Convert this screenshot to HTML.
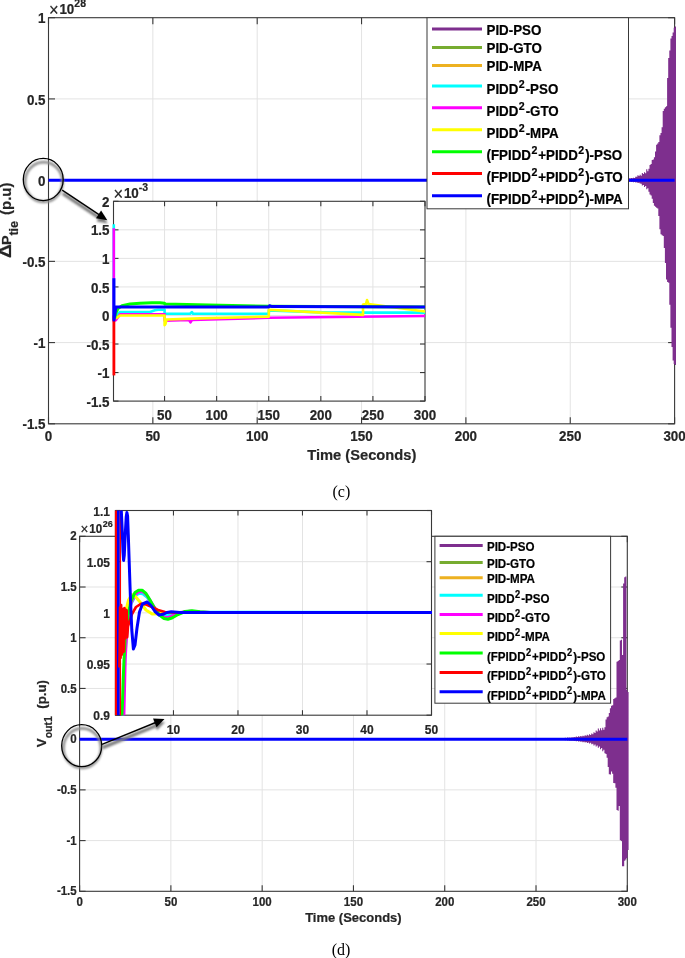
<!DOCTYPE html>
<html><head><meta charset="utf-8"><style>
html,body{margin:0;padding:0;background:#fff;}
svg{display:block;will-change:transform;}
text{font-family:"Liberation Sans", sans-serif;font-weight:bold;fill:#262626;stroke:#262626;stroke-width:0.2px;}
.serif{font-family:"Liberation Serif",serif;font-weight:normal;fill:#000;stroke:none;}
.lg{fill:#000;stroke:#000;}
.sup{font-size:9px;}
</style></head><body>
<svg width="685" height="958" viewBox="0 0 685 958">
<defs>
<filter id="sh" x="-30%" y="-30%" width="160%" height="160%"><feGaussianBlur stdDeviation="1.2"/></filter>
<marker id="ah" viewBox="0 0 10 10" refX="10" refY="5" markerWidth="10" markerHeight="10" orient="auto" markerUnits="userSpaceOnUse"><path d="M0,0 L10,5 L0,10 z" fill="#000"/></marker>
</defs>
<rect width="685" height="958" fill="#fff"/>

<rect x="48.5" y="17.7" width="626.1" height="406.1" fill="#fff"/>
<line x1="152.85" y1="17.7" x2="152.85" y2="423.8" stroke="#e3e3e3" stroke-width="1"/>
<line x1="257.20" y1="17.7" x2="257.20" y2="423.8" stroke="#e3e3e3" stroke-width="1"/>
<line x1="361.55" y1="17.7" x2="361.55" y2="423.8" stroke="#e3e3e3" stroke-width="1"/>
<line x1="465.90" y1="17.7" x2="465.90" y2="423.8" stroke="#e3e3e3" stroke-width="1"/>
<line x1="570.25" y1="17.7" x2="570.25" y2="423.8" stroke="#e3e3e3" stroke-width="1"/>
<line x1="48.5" y1="342.58" x2="674.6" y2="342.58" stroke="#e3e3e3" stroke-width="1"/>
<line x1="48.5" y1="261.36" x2="674.6" y2="261.36" stroke="#e3e3e3" stroke-width="1"/>
<line x1="48.5" y1="180.14" x2="674.6" y2="180.14" stroke="#e3e3e3" stroke-width="1"/>
<line x1="48.5" y1="98.92" x2="674.6" y2="98.92" stroke="#e3e3e3" stroke-width="1"/>
<line x1="48.50" y1="423.8" x2="48.50" y2="417.3" stroke="#383838" stroke-width="1.1"/>
<line x1="48.50" y1="17.7" x2="48.50" y2="24.2" stroke="#383838" stroke-width="1.1"/>
<line x1="152.85" y1="423.8" x2="152.85" y2="417.3" stroke="#383838" stroke-width="1.1"/>
<line x1="152.85" y1="17.7" x2="152.85" y2="24.2" stroke="#383838" stroke-width="1.1"/>
<line x1="257.20" y1="423.8" x2="257.20" y2="417.3" stroke="#383838" stroke-width="1.1"/>
<line x1="257.20" y1="17.7" x2="257.20" y2="24.2" stroke="#383838" stroke-width="1.1"/>
<line x1="361.55" y1="423.8" x2="361.55" y2="417.3" stroke="#383838" stroke-width="1.1"/>
<line x1="361.55" y1="17.7" x2="361.55" y2="24.2" stroke="#383838" stroke-width="1.1"/>
<line x1="465.90" y1="423.8" x2="465.90" y2="417.3" stroke="#383838" stroke-width="1.1"/>
<line x1="465.90" y1="17.7" x2="465.90" y2="24.2" stroke="#383838" stroke-width="1.1"/>
<line x1="570.25" y1="423.8" x2="570.25" y2="417.3" stroke="#383838" stroke-width="1.1"/>
<line x1="570.25" y1="17.7" x2="570.25" y2="24.2" stroke="#383838" stroke-width="1.1"/>
<line x1="674.60" y1="423.8" x2="674.60" y2="417.3" stroke="#383838" stroke-width="1.1"/>
<line x1="674.60" y1="17.7" x2="674.60" y2="24.2" stroke="#383838" stroke-width="1.1"/>
<line x1="48.5" y1="423.80" x2="55.0" y2="423.80" stroke="#383838" stroke-width="1.1"/>
<line x1="674.6" y1="423.80" x2="668.1" y2="423.80" stroke="#383838" stroke-width="1.1"/>
<line x1="48.5" y1="342.58" x2="55.0" y2="342.58" stroke="#383838" stroke-width="1.1"/>
<line x1="674.6" y1="342.58" x2="668.1" y2="342.58" stroke="#383838" stroke-width="1.1"/>
<line x1="48.5" y1="261.36" x2="55.0" y2="261.36" stroke="#383838" stroke-width="1.1"/>
<line x1="674.6" y1="261.36" x2="668.1" y2="261.36" stroke="#383838" stroke-width="1.1"/>
<line x1="48.5" y1="180.14" x2="55.0" y2="180.14" stroke="#383838" stroke-width="1.1"/>
<line x1="674.6" y1="180.14" x2="668.1" y2="180.14" stroke="#383838" stroke-width="1.1"/>
<line x1="48.5" y1="98.92" x2="55.0" y2="98.92" stroke="#383838" stroke-width="1.1"/>
<line x1="674.6" y1="98.92" x2="668.1" y2="98.92" stroke="#383838" stroke-width="1.1"/>
<line x1="48.5" y1="17.70" x2="55.0" y2="17.70" stroke="#383838" stroke-width="1.1"/>
<line x1="674.6" y1="17.70" x2="668.1" y2="17.70" stroke="#383838" stroke-width="1.1"/>
<rect x="48.5" y="17.7" width="626.1" height="406.1" fill="none" stroke="#383838" stroke-width="1.1"/>
<path d="M622,180.2 L623.1,180.2 L623.1,180.03 L624.2,180.03 L624.2,179.81 L625.3,179.81 L625.3,179.72 L626.4,179.72 L626.4,179.32 L627.5,179.32 L627.5,179.09 L628.6,179.09 L628.6,178.34 L629.7,178.34 L629.7,178.54 L630.8,178.54 L630.8,177.98 L631.9,177.98 L631.9,178.27 L633.0,178.27 L633.0,177.65 L634.1,177.65 L634.1,177.97 L635.2,177.97 L635.2,176.69 L636.3,176.69 L636.3,176.78 L637.4,176.78 L637.4,175.2 L638.5,175.2 L638.5,176.02 L639.6,176.02 L639.6,174.79 L640.7,174.79 L640.7,175.69 L641.8,175.69 L641.8,172.91 L642.9,172.91 L642.9,174.1 L644.0,174.1 L644.0,172.29 L645.1,172.29 L645.1,173.2 L646.2,173.2 L646.2,169.22 L647.3,169.22 L647.3,171.17 L648.4,171.17 L648.4,168.65 L649.5,168.65 L649.5,165.0 L650.6,165.0 L650.6,163.9 L651.7,163.9 L651.7,159.91 L652.8,159.91 L652.8,159.43 L653.9,159.43 L653.9,157.25 L655.0,157.25 L655.0,151.47 L656.1,151.47 L656.1,144.87 L657.2,144.87 L657.2,143.38 L658.3,143.38 L658.3,141.9 L659.4,141.9 L659.4,135.2 L660.5,135.2 L660.5,133.0 L661.6,133.0 L661.6,127.2 L662.7,127.2 L662.7,111.0 L663.8,111.0 L663.8,108.67 L664.9,108.67 L664.9,107.22 L666.0,107.22 L666.0,106.26 L667.1,106.26 L667.1,78.08 L668.2,78.08 L668.2,58.0 L669.3,58.0 L669.3,50.5 L670.4,50.5 L670.4,38.57 L671.5,38.57 L671.5,36.0 L672.6,36.0 L672.6,32.5 L673.7,32.5 L673.7,27.7 L674.8,27.7 L674.8,26.5 L675.9,26.5 L675.9,26.5 L676,26.5 L676,26.5 L676,365 L676,365.0 L675.9,365.0 L675.9,365.0 L674.8,365.0 L674.8,363.94 L673.7,363.94 L673.7,360.5 L672.6,360.5 L672.6,347.0 L671.5,347.0 L671.5,327.63 L670.4,327.63 L670.4,304.71 L669.3,304.71 L669.3,282.78 L668.2,282.78 L668.2,281.95 L667.1,281.95 L667.1,279.5 L666.0,279.5 L666.0,262.93 L664.9,262.93 L664.9,248.0 L663.8,248.0 L663.8,235.94 L662.7,235.94 L662.7,235.33 L661.6,235.33 L661.6,234.17 L660.5,234.17 L660.5,229.22 L659.4,229.22 L659.4,215.91 L658.3,215.91 L658.3,208.5 L657.2,208.5 L657.2,207.64 L656.1,207.64 L656.1,206.78 L655.0,206.78 L655.0,205.75 L653.9,205.75 L653.9,203.0 L652.8,203.0 L652.8,198.86 L651.7,198.86 L651.7,195.39 L650.6,195.39 L650.6,194.43 L649.5,194.43 L649.5,191.75 L648.4,191.75 L648.4,188.17 L647.3,188.17 L647.3,189.18 L646.2,189.18 L646.2,186.1 L645.1,186.1 L645.1,186.9 L644.0,186.9 L644.0,184.98 L642.9,184.98 L642.9,185.51 L641.8,185.51 L641.8,183.71 L640.7,183.71 L640.7,183.53 L639.6,183.53 L639.6,182.65 L638.5,182.65 L638.5,183.04 L637.4,183.04 L637.4,182.25 L636.3,182.25 L636.3,182.54 L635.2,182.54 L635.2,181.92 L634.1,181.92 L634.1,182.23 L633.0,182.23 L633.0,181.68 L631.9,181.68 L631.9,181.93 L630.8,181.93 L630.8,181.44 L629.7,181.44 L629.7,181.63 L628.6,181.63 L628.6,181.18 L627.5,181.18 L627.5,181.26 L626.4,181.26 L626.4,180.87 L625.3,180.87 L625.3,180.88 L624.2,180.88 L624.2,180.57 L623.1,180.57 L623.1,180.5 L622,180.5 Z" fill="#7E2F8E"/>
<line x1="48.5" y1="180.14" x2="674.6" y2="180.14" stroke="#0000FF" stroke-width="3"/>
<text transform="translate(48.50,441.2) scale(1,1.1)" font-size="13.4" text-anchor="middle">0</text>
<text transform="translate(152.85,441.2) scale(1,1.1)" font-size="13.4" text-anchor="middle">50</text>
<text transform="translate(257.20,441.2) scale(1,1.1)" font-size="13.4" text-anchor="middle">100</text>
<text transform="translate(361.55,441.2) scale(1,1.1)" font-size="13.4" text-anchor="middle">150</text>
<text transform="translate(465.90,441.2) scale(1,1.1)" font-size="13.4" text-anchor="middle">200</text>
<text transform="translate(570.25,441.2) scale(1,1.1)" font-size="13.4" text-anchor="middle">250</text>
<text transform="translate(674.60,441.2) scale(1,1.1)" font-size="13.4" text-anchor="middle">300</text>
<text transform="translate(45.5,429.42) scale(1,1.1)" font-size="13.4" text-anchor="end">-1.5</text>
<text transform="translate(45.5,348.20) scale(1,1.1)" font-size="13.4" text-anchor="end">-1</text>
<text transform="translate(45.5,266.98) scale(1,1.1)" font-size="13.4" text-anchor="end">-0.5</text>
<text transform="translate(45.5,185.76) scale(1,1.1)" font-size="13.4" text-anchor="end">0</text>
<text transform="translate(45.5,104.54) scale(1,1.1)" font-size="13.4" text-anchor="end">0.5</text>
<text transform="translate(45.5,23.32) scale(1,1.1)" font-size="13.4" text-anchor="end">1</text>
<text transform="translate(49,14) scale(1,1.1)" font-size="13.4"><tspan font-weight="normal" font-size="16.5" dy="1.8">×</tspan><tspan dy="-1.8" dx="0.8">10</tspan><tspan font-size="10.5" dy="-6.2">28</tspan></text>
<g transform="translate(11,258.6) rotate(-90)">
<text transform="translate(0.6,0) scale(1.28,1.08)" font-size="15">Δ</text>
<text transform="translate(13.6,0) scale(1,0.9)" font-size="14.6">P</text>
<text transform="translate(23.0,6.6) scale(1,0.95)" font-size="12.6">tie</text>
<text transform="translate(43.6,0) scale(1,1)" font-size="15">(p.u)</text>
</g>
<text transform="translate(361.75,459.6) scale(1,1.03)" font-size="14.7" text-anchor="middle">Time (Seconds)</text>
<text class="serif" x="341.4" y="497" font-size="16" text-anchor="middle">(c)</text>
<rect x="427.0" y="17.7" width="201.5" height="191.10000000000002" fill="#fff" stroke="#383838" stroke-width="1"/>
<line x1="432" y1="29.1" x2="482" y2="29.1" stroke="#7E2F8E" stroke-width="3"/>
<text transform="translate(486.5,34.70) scale(1,1.1)" class="lg" font-size="13.35">PID-PSO</text>
<line x1="432" y1="47.4" x2="482" y2="47.4" stroke="#77AC30" stroke-width="3"/>
<text transform="translate(486.5,53.00) scale(1,1.1)" class="lg" font-size="13.35">PID-GTO</text>
<line x1="432" y1="65.5" x2="482" y2="65.5" stroke="#EDB120" stroke-width="3"/>
<text transform="translate(486.5,71.10) scale(1,1.1)" class="lg" font-size="13.35">PID-MPA</text>
<line x1="432" y1="85.9" x2="482" y2="85.9" stroke="#00FFFF" stroke-width="3"/>
<text transform="translate(486.5,93.90) scale(1,1.1)" class="lg" font-size="13.35">PIDD<tspan font-size="10.6" dx="0.5" dy="-5.6">2</tspan><tspan dx="0.9" dy="5.6">-PSO</tspan></text>
<line x1="432" y1="107.7" x2="482" y2="107.7" stroke="#FF00FF" stroke-width="3"/>
<text transform="translate(486.5,115.70) scale(1,1.1)" class="lg" font-size="13.35">PIDD<tspan font-size="10.6" dx="0.5" dy="-5.6">2</tspan><tspan dx="0.9" dy="5.6">-GTO</tspan></text>
<line x1="432" y1="129.8" x2="482" y2="129.8" stroke="#FFFF00" stroke-width="3"/>
<text transform="translate(486.5,137.80) scale(1,1.1)" class="lg" font-size="13.35">PIDD<tspan font-size="10.6" dx="0.5" dy="-5.6">2</tspan><tspan dx="0.9" dy="5.6">-MPA</tspan></text>
<line x1="432" y1="151.7" x2="482" y2="151.7" stroke="#00FF00" stroke-width="3"/>
<text transform="translate(486.5,160.10) scale(1,1.1)" class="lg" font-size="13.35">(FPIDD<tspan font-size="10.6" dx="0.5" dy="-5.6">2</tspan><tspan dx="0.9" dy="5.6">+PIDD</tspan><tspan font-size="10.6" dx="0.5" dy="-5.6">2</tspan><tspan dx="0.9" dy="5.6">)-PSO</tspan></text>
<line x1="432" y1="173.5" x2="482" y2="173.5" stroke="#FF0000" stroke-width="3"/>
<text transform="translate(486.5,181.90) scale(1,1.1)" class="lg" font-size="13.35">(FPIDD<tspan font-size="10.6" dx="0.5" dy="-5.6">2</tspan><tspan dx="0.9" dy="5.6">+PIDD</tspan><tspan font-size="10.6" dx="0.5" dy="-5.6">2</tspan><tspan dx="0.9" dy="5.6">)-GTO</tspan></text>
<line x1="432" y1="195.7" x2="482" y2="195.7" stroke="#0000FF" stroke-width="3"/>
<text transform="translate(486.5,204.10) scale(1,1.1)" class="lg" font-size="13.35">(FPIDD<tspan font-size="10.6" dx="0.5" dy="-5.6">2</tspan><tspan dx="0.9" dy="5.6">+PIDD</tspan><tspan font-size="10.6" dx="0.5" dy="-5.6">2</tspan><tspan dx="0.9" dy="5.6">)-MPA</tspan></text>
<rect x="113.5" y="201.3" width="311.5" height="199.8" fill="#fff"/>
<line x1="164.55" y1="201.3" x2="164.55" y2="401.1" stroke="#e3e3e3" stroke-width="1"/>
<line x1="216.64" y1="201.3" x2="216.64" y2="401.1" stroke="#e3e3e3" stroke-width="1"/>
<line x1="268.73" y1="201.3" x2="268.73" y2="401.1" stroke="#e3e3e3" stroke-width="1"/>
<line x1="320.82" y1="201.3" x2="320.82" y2="401.1" stroke="#e3e3e3" stroke-width="1"/>
<line x1="372.91" y1="201.3" x2="372.91" y2="401.1" stroke="#e3e3e3" stroke-width="1"/>
<line x1="113.5" y1="372.56" x2="425.0" y2="372.56" stroke="#e3e3e3" stroke-width="1"/>
<line x1="113.5" y1="344.01" x2="425.0" y2="344.01" stroke="#e3e3e3" stroke-width="1"/>
<line x1="113.5" y1="315.47" x2="425.0" y2="315.47" stroke="#e3e3e3" stroke-width="1"/>
<line x1="113.5" y1="286.93" x2="425.0" y2="286.93" stroke="#e3e3e3" stroke-width="1"/>
<line x1="113.5" y1="258.39" x2="425.0" y2="258.39" stroke="#e3e3e3" stroke-width="1"/>
<line x1="113.5" y1="229.84" x2="425.0" y2="229.84" stroke="#e3e3e3" stroke-width="1"/>
<line x1="164.55" y1="401.1" x2="164.55" y2="396.1" stroke="#383838" stroke-width="1.1"/>
<line x1="164.55" y1="201.3" x2="164.55" y2="206.3" stroke="#383838" stroke-width="1.1"/>
<line x1="216.64" y1="401.1" x2="216.64" y2="396.1" stroke="#383838" stroke-width="1.1"/>
<line x1="216.64" y1="201.3" x2="216.64" y2="206.3" stroke="#383838" stroke-width="1.1"/>
<line x1="268.73" y1="401.1" x2="268.73" y2="396.1" stroke="#383838" stroke-width="1.1"/>
<line x1="268.73" y1="201.3" x2="268.73" y2="206.3" stroke="#383838" stroke-width="1.1"/>
<line x1="320.82" y1="401.1" x2="320.82" y2="396.1" stroke="#383838" stroke-width="1.1"/>
<line x1="320.82" y1="201.3" x2="320.82" y2="206.3" stroke="#383838" stroke-width="1.1"/>
<line x1="372.91" y1="401.1" x2="372.91" y2="396.1" stroke="#383838" stroke-width="1.1"/>
<line x1="372.91" y1="201.3" x2="372.91" y2="206.3" stroke="#383838" stroke-width="1.1"/>
<line x1="425.00" y1="401.1" x2="425.00" y2="396.1" stroke="#383838" stroke-width="1.1"/>
<line x1="425.00" y1="201.3" x2="425.00" y2="206.3" stroke="#383838" stroke-width="1.1"/>
<line x1="113.5" y1="401.10" x2="118.5" y2="401.10" stroke="#383838" stroke-width="1.1"/>
<line x1="425.0" y1="401.10" x2="420.0" y2="401.10" stroke="#383838" stroke-width="1.1"/>
<line x1="113.5" y1="372.56" x2="118.5" y2="372.56" stroke="#383838" stroke-width="1.1"/>
<line x1="425.0" y1="372.56" x2="420.0" y2="372.56" stroke="#383838" stroke-width="1.1"/>
<line x1="113.5" y1="344.01" x2="118.5" y2="344.01" stroke="#383838" stroke-width="1.1"/>
<line x1="425.0" y1="344.01" x2="420.0" y2="344.01" stroke="#383838" stroke-width="1.1"/>
<line x1="113.5" y1="315.47" x2="118.5" y2="315.47" stroke="#383838" stroke-width="1.1"/>
<line x1="425.0" y1="315.47" x2="420.0" y2="315.47" stroke="#383838" stroke-width="1.1"/>
<line x1="113.5" y1="286.93" x2="118.5" y2="286.93" stroke="#383838" stroke-width="1.1"/>
<line x1="425.0" y1="286.93" x2="420.0" y2="286.93" stroke="#383838" stroke-width="1.1"/>
<line x1="113.5" y1="258.39" x2="118.5" y2="258.39" stroke="#383838" stroke-width="1.1"/>
<line x1="425.0" y1="258.39" x2="420.0" y2="258.39" stroke="#383838" stroke-width="1.1"/>
<line x1="113.5" y1="229.84" x2="118.5" y2="229.84" stroke="#383838" stroke-width="1.1"/>
<line x1="425.0" y1="229.84" x2="420.0" y2="229.84" stroke="#383838" stroke-width="1.1"/>
<line x1="113.5" y1="201.30" x2="118.5" y2="201.30" stroke="#383838" stroke-width="1.1"/>
<line x1="425.0" y1="201.30" x2="420.0" y2="201.30" stroke="#383838" stroke-width="1.1"/>
<rect x="113.5" y="201.3" width="311.5" height="199.8" fill="none" stroke="#383838" stroke-width="1.1"/>
<clipPath id="c1"><rect x="112.0" y="200.3" width="314.5" height="201.8"/></clipPath>
<g clip-path="url(#c1)">
<polyline points="113.80,224.13 113.80,315.47 116.00,315.47 120.00,312.05 150.00,312.05 155.00,310.33 158.00,309.76 164.60,309.76 164.60,313.76 190.00,313.76 192.00,312.05 193.00,313.76 268.80,313.76 268.80,310.33 330.00,312.62 425.00,312.62" fill="none" stroke="#00FFFF" stroke-width="2.6" stroke-linejoin="round" stroke-linecap="butt" />
<polyline points="113.80,228.13 113.80,321.18 116.00,320.04 118.00,317.18 120.00,314.33 164.60,314.33 164.60,320.61 189.00,320.04 190.50,322.32 192.00,320.04 268.80,317.75 425.00,316.04" fill="none" stroke="#FF00FF" stroke-width="2.6" stroke-linejoin="round" stroke-linecap="butt" />
<polyline points="116.00,318.33 120.00,315.47 164.60,315.47 164.60,325.18 165.50,324.03 166.50,319.47 200.00,318.33 268.80,316.61 268.80,309.76 363.00,314.90 363.00,304.63 366.00,304.05 367.00,300.06 368.50,304.05 425.00,311.48" fill="none" stroke="#FFFF00" stroke-width="2.6" stroke-linejoin="round" stroke-linecap="butt" />
<polyline points="114.50,318.33 116.00,312.62 118.00,308.62 122.00,305.77 130.00,304.05 140.00,303.20 152.00,302.68 160.00,302.80 164.60,303.20 164.60,304.05 220.00,305.20 268.80,306.34 425.00,306.91" fill="none" stroke="#00FF00" stroke-width="3" stroke-linejoin="round" stroke-linecap="butt" />
<polyline points="113.90,315.47 113.90,375.41" fill="none" stroke="#FF0000" stroke-width="2.8" stroke-linejoin="round" stroke-linecap="butt" />
<polyline points="113.90,278.37 113.90,320.04 116.00,306.91 268.80,306.91 269.50,305.77 272.00,306.62 425.00,306.91" fill="none" stroke="#0000FF" stroke-width="3" stroke-linejoin="round" stroke-linecap="butt" />
</g>
<text transform="translate(164.55,419.5) scale(1,1.1)" font-size="13.4" text-anchor="middle">50</text>
<text transform="translate(216.64,419.5) scale(1,1.1)" font-size="13.4" text-anchor="middle">100</text>
<text transform="translate(268.73,419.5) scale(1,1.1)" font-size="13.4" text-anchor="middle">150</text>
<text transform="translate(320.82,419.5) scale(1,1.1)" font-size="13.4" text-anchor="middle">200</text>
<text transform="translate(372.91,419.5) scale(1,1.1)" font-size="13.4" text-anchor="middle">250</text>
<text transform="translate(425.00,419.5) scale(1,1.1)" font-size="13.4" text-anchor="middle">300</text>
<text transform="translate(109.5,406.72) scale(1,1.1)" font-size="13.4" text-anchor="end">-1.5</text>
<text transform="translate(109.5,378.18) scale(1,1.1)" font-size="13.4" text-anchor="end">-1</text>
<text transform="translate(109.5,349.64) scale(1,1.1)" font-size="13.4" text-anchor="end">-0.5</text>
<text transform="translate(109.5,321.10) scale(1,1.1)" font-size="13.4" text-anchor="end">0</text>
<text transform="translate(109.5,292.55) scale(1,1.1)" font-size="13.4" text-anchor="end">0.5</text>
<text transform="translate(109.5,264.01) scale(1,1.1)" font-size="13.4" text-anchor="end">1</text>
<text transform="translate(109.5,235.47) scale(1,1.1)" font-size="13.4" text-anchor="end">1.5</text>
<text transform="translate(109.5,206.92) scale(1,1.1)" font-size="13.4" text-anchor="end">2</text>
<text transform="translate(113.5,198) scale(1,1.1)" font-size="13.4"><tspan font-weight="normal" font-size="16.5" dy="1.8">×</tspan><tspan dy="-1.8" dx="0.8">10</tspan><tspan font-size="10.5" dy="-6.2">-3</tspan></text>
<ellipse cx="43.25" cy="179.5" rx="18.75" ry="19.900000000000002" fill="none" stroke="#8a8a8a" stroke-width="2.6" filter="url(#sh)" transform="translate(0.5,2.5)"/>
<ellipse cx="43.25" cy="179.5" rx="19.95" ry="21.1" fill="none" stroke="#000" stroke-width="1.3"/>
<g filter="url(#sh)" transform="translate(0.5,3.2)"><line x1="62.2" y1="190.2" x2="98.56" y2="214.38" stroke="#7a7a7a" stroke-width="3.3"/><path d="M107.30,220.20 L96.01,218.21 L101.11,210.55 Z" fill="#7a7a7a"/></g>
<line x1="62.2" y1="190.2" x2="99.39" y2="214.94" stroke="#000" stroke-width="1.4"/>
<path d="M107.30,220.20 L96.01,218.21 L101.11,210.55 Z" fill="#000"/>
<rect x="79.6" y="536.3" width="547.6999999999999" height="355.0" fill="#fff"/>
<line x1="170.88" y1="536.3" x2="170.88" y2="891.3" stroke="#e3e3e3" stroke-width="1"/>
<line x1="262.17" y1="536.3" x2="262.17" y2="891.3" stroke="#e3e3e3" stroke-width="1"/>
<line x1="353.45" y1="536.3" x2="353.45" y2="891.3" stroke="#e3e3e3" stroke-width="1"/>
<line x1="444.73" y1="536.3" x2="444.73" y2="891.3" stroke="#e3e3e3" stroke-width="1"/>
<line x1="536.02" y1="536.3" x2="536.02" y2="891.3" stroke="#e3e3e3" stroke-width="1"/>
<line x1="79.6" y1="840.59" x2="627.3" y2="840.59" stroke="#e3e3e3" stroke-width="1"/>
<line x1="79.6" y1="789.87" x2="627.3" y2="789.87" stroke="#e3e3e3" stroke-width="1"/>
<line x1="79.6" y1="739.16" x2="627.3" y2="739.16" stroke="#e3e3e3" stroke-width="1"/>
<line x1="79.6" y1="688.44" x2="627.3" y2="688.44" stroke="#e3e3e3" stroke-width="1"/>
<line x1="79.6" y1="637.73" x2="627.3" y2="637.73" stroke="#e3e3e3" stroke-width="1"/>
<line x1="79.6" y1="587.01" x2="627.3" y2="587.01" stroke="#e3e3e3" stroke-width="1"/>
<line x1="79.60" y1="891.3" x2="79.60" y2="885.3" stroke="#383838" stroke-width="1.1"/>
<line x1="79.60" y1="536.3" x2="79.60" y2="542.3" stroke="#383838" stroke-width="1.1"/>
<line x1="170.88" y1="891.3" x2="170.88" y2="885.3" stroke="#383838" stroke-width="1.1"/>
<line x1="170.88" y1="536.3" x2="170.88" y2="542.3" stroke="#383838" stroke-width="1.1"/>
<line x1="262.17" y1="891.3" x2="262.17" y2="885.3" stroke="#383838" stroke-width="1.1"/>
<line x1="262.17" y1="536.3" x2="262.17" y2="542.3" stroke="#383838" stroke-width="1.1"/>
<line x1="353.45" y1="891.3" x2="353.45" y2="885.3" stroke="#383838" stroke-width="1.1"/>
<line x1="353.45" y1="536.3" x2="353.45" y2="542.3" stroke="#383838" stroke-width="1.1"/>
<line x1="444.73" y1="891.3" x2="444.73" y2="885.3" stroke="#383838" stroke-width="1.1"/>
<line x1="444.73" y1="536.3" x2="444.73" y2="542.3" stroke="#383838" stroke-width="1.1"/>
<line x1="536.02" y1="891.3" x2="536.02" y2="885.3" stroke="#383838" stroke-width="1.1"/>
<line x1="536.02" y1="536.3" x2="536.02" y2="542.3" stroke="#383838" stroke-width="1.1"/>
<line x1="627.30" y1="891.3" x2="627.30" y2="885.3" stroke="#383838" stroke-width="1.1"/>
<line x1="627.30" y1="536.3" x2="627.30" y2="542.3" stroke="#383838" stroke-width="1.1"/>
<line x1="79.6" y1="891.30" x2="85.6" y2="891.30" stroke="#383838" stroke-width="1.1"/>
<line x1="627.3" y1="891.30" x2="621.3" y2="891.30" stroke="#383838" stroke-width="1.1"/>
<line x1="79.6" y1="840.59" x2="85.6" y2="840.59" stroke="#383838" stroke-width="1.1"/>
<line x1="627.3" y1="840.59" x2="621.3" y2="840.59" stroke="#383838" stroke-width="1.1"/>
<line x1="79.6" y1="789.87" x2="85.6" y2="789.87" stroke="#383838" stroke-width="1.1"/>
<line x1="627.3" y1="789.87" x2="621.3" y2="789.87" stroke="#383838" stroke-width="1.1"/>
<line x1="79.6" y1="739.16" x2="85.6" y2="739.16" stroke="#383838" stroke-width="1.1"/>
<line x1="627.3" y1="739.16" x2="621.3" y2="739.16" stroke="#383838" stroke-width="1.1"/>
<line x1="79.6" y1="688.44" x2="85.6" y2="688.44" stroke="#383838" stroke-width="1.1"/>
<line x1="627.3" y1="688.44" x2="621.3" y2="688.44" stroke="#383838" stroke-width="1.1"/>
<line x1="79.6" y1="637.73" x2="85.6" y2="637.73" stroke="#383838" stroke-width="1.1"/>
<line x1="627.3" y1="637.73" x2="621.3" y2="637.73" stroke="#383838" stroke-width="1.1"/>
<line x1="79.6" y1="587.01" x2="85.6" y2="587.01" stroke="#383838" stroke-width="1.1"/>
<line x1="627.3" y1="587.01" x2="621.3" y2="587.01" stroke="#383838" stroke-width="1.1"/>
<line x1="79.6" y1="536.30" x2="85.6" y2="536.30" stroke="#383838" stroke-width="1.1"/>
<line x1="627.3" y1="536.30" x2="621.3" y2="536.30" stroke="#383838" stroke-width="1.1"/>
<rect x="79.6" y="536.3" width="547.6999999999999" height="355.0" fill="none" stroke="#383838" stroke-width="1.1"/>
<path d="M556,739.0 L557.1,739.0 L557.1,738.88 L558.2,738.88 L558.2,738.69 L559.3,738.69 L559.3,738.63 L560.4,738.63 L560.4,738.38 L561.5,738.38 L561.5,738.38 L562.6,738.38 L562.6,738.08 L563.7,738.08 L563.7,738.14 L564.8,738.14 L564.8,737.77 L565.9,737.77 L565.9,737.89 L567.0,737.89 L567.0,737.53 L568.1,737.53 L568.1,737.77 L569.2,737.77 L569.2,737.39 L570.3,737.39 L570.3,737.65 L571.4,737.65 L571.4,737.24 L572.5,737.24 L572.5,737.48 L573.6,737.48 L573.6,736.88 L574.7,736.88 L574.7,737.13 L575.8,737.13 L575.8,736.53 L576.9,736.53 L576.9,736.94 L578.0,736.94 L578.0,736.33 L579.1,736.33 L579.1,736.78 L580.2,736.78 L580.2,736.11 L581.3,736.11 L581.3,736.59 L582.4,736.59 L582.4,735.87 L583.5,735.87 L583.5,736.33 L584.6,736.33 L584.6,735.37 L585.7,735.37 L585.7,735.86 L586.8,735.86 L586.8,734.81 L587.9,734.81 L587.9,735.45 L589.0,735.45 L589.0,734.3 L590.1,734.3 L590.1,734.92 L591.2,734.92 L591.2,733.51 L592.3,733.51 L592.3,734.29 L593.4,734.29 L593.4,732.37 L594.5,732.37 L594.5,733.0 L595.6,733.0 L595.6,730.5 L596.7,730.5 L596.7,731.4 L597.8,731.4 L597.8,728.5 L598.9,728.5 L598.9,730.46 L600.0,730.46 L600.0,728.16 L601.1,728.16 L601.1,730.18 L602.2,730.18 L602.2,727.72 L603.3,727.72 L603.3,729.77 L604.4,729.77 L604.4,727.2 L605.5,727.2 L605.5,719.6 L606.6,719.6 L606.6,717.28 L607.7,717.28 L607.7,716.4 L608.8,716.4 L608.8,713.0 L609.9,713.0 L609.9,708.14 L611.0,708.14 L611.0,705.73 L612.1,705.73 L612.1,705.23 L613.2,705.23 L613.2,699.0 L614.3,699.0 L614.3,698.28 L615.4,698.28 L615.4,697.57 L616.5,697.57 L616.5,661.76 L617.6,661.76 L617.6,660.88 L618.7,660.88 L618.7,660.0 L619.8,660.0 L619.8,640.59 L620.9,640.59 L620.9,639.84 L622.0,639.84 L622.0,654.88 L623.1,654.88 L623.1,583.5 L624.2,583.5 L624.2,577.29 L625.3,577.29 L625.3,576.5 L626.4,576.5 L626.4,690.0 L627.5,690.0 L627.5,692.0 L628.6,692.0 L628.6,692 L628.6,850 L628.6,850.0 L627.5,850.0 L627.5,858.12 L626.4,858.12 L626.4,859.38 L625.3,859.38 L625.3,860.65 L624.2,860.65 L624.2,866.33 L623.1,866.33 L623.1,866.33 L622.0,866.33 L622.0,840.83 L620.9,840.83 L620.9,840.22 L619.8,840.22 L619.8,806.0 L618.7,806.0 L618.7,810.67 L617.6,810.67 L617.6,810.06 L616.5,810.06 L616.5,787.83 L615.4,787.83 L615.4,783.31 L614.3,783.31 L614.3,783.0 L613.2,783.0 L613.2,773.75 L612.1,773.75 L612.1,771.5 L611.0,771.5 L611.0,774.43 L609.9,774.43 L609.9,774.33 L608.8,774.33 L608.8,766.92 L607.7,766.92 L607.7,757.87 L606.6,757.87 L606.6,754.05 L605.5,754.05 L605.5,753.2 L604.4,753.2 L604.4,749.65 L603.3,749.65 L603.3,751.28 L602.2,751.28 L602.2,748.03 L601.1,748.03 L601.1,749.32 L600.0,749.32 L600.0,746.48 L598.9,746.48 L598.9,747.64 L597.8,747.64 L597.8,745.46 L596.7,745.46 L596.7,746.51 L595.6,746.51 L595.6,744.57 L594.5,744.57 L594.5,745.43 L593.4,745.43 L593.4,743.72 L592.3,743.72 L592.3,744.32 L591.2,744.32 L591.2,742.8 L590.1,742.8 L590.1,743.48 L589.0,743.48 L589.0,742.39 L587.9,742.39 L587.9,743.0 L586.8,743.0 L586.8,742.0 L585.7,742.0 L585.7,742.54 L584.6,742.54 L584.6,741.69 L583.5,741.69 L583.5,742.18 L582.4,742.18 L582.4,741.4 L581.3,741.4 L581.3,741.83 L580.2,741.83 L580.2,741.13 L579.1,741.13 L579.1,741.55 L578.0,741.55 L578.0,740.94 L576.9,740.94 L576.9,741.31 L575.8,741.31 L575.8,740.75 L574.7,740.75 L574.7,741.07 L573.6,741.07 L573.6,740.56 L572.5,740.56 L572.5,740.85 L571.4,740.85 L571.4,740.41 L570.3,740.41 L570.3,740.67 L569.2,740.67 L569.2,740.26 L568.1,740.26 L568.1,740.48 L567.0,740.48 L567.0,740.11 L565.9,740.11 L565.9,740.26 L564.8,740.26 L564.8,739.9 L563.7,739.9 L563.7,739.99 L562.6,739.99 L562.6,739.69 L561.5,739.69 L561.5,739.73 L560.4,739.73 L560.4,739.48 L559.3,739.48 L559.3,739.46 L558.2,739.46 L558.2,739.27 L557.1,739.27 L557.1,739.2 L556,739.2 Z" fill="#7E2F8E"/>
<line x1="79.6" y1="739.16" x2="627.3" y2="739.16" stroke="#0000FF" stroke-width="3"/>
<text transform="translate(79.60,906.2) scale(1,1.1)" font-size="11.5" text-anchor="middle">0</text>
<text transform="translate(170.88,906.2) scale(1,1.1)" font-size="11.5" text-anchor="middle">50</text>
<text transform="translate(262.17,906.2) scale(1,1.1)" font-size="11.5" text-anchor="middle">100</text>
<text transform="translate(353.45,906.2) scale(1,1.1)" font-size="11.5" text-anchor="middle">150</text>
<text transform="translate(444.73,906.2) scale(1,1.1)" font-size="11.5" text-anchor="middle">200</text>
<text transform="translate(536.02,906.2) scale(1,1.1)" font-size="11.5" text-anchor="middle">250</text>
<text transform="translate(627.30,906.2) scale(1,1.1)" font-size="11.5" text-anchor="middle">300</text>
<text transform="translate(76.7,895.44) scale(1,1.1)" font-size="11.5" text-anchor="end">-1.5</text>
<text transform="translate(76.7,844.73) scale(1,1.1)" font-size="11.5" text-anchor="end">-1</text>
<text transform="translate(76.7,794.01) scale(1,1.1)" font-size="11.5" text-anchor="end">-0.5</text>
<text transform="translate(76.7,743.30) scale(1,1.1)" font-size="11.5" text-anchor="end">0</text>
<text transform="translate(76.7,692.58) scale(1,1.1)" font-size="11.5" text-anchor="end">0.5</text>
<text transform="translate(76.7,641.87) scale(1,1.1)" font-size="11.5" text-anchor="end">1</text>
<text transform="translate(76.7,591.15) scale(1,1.1)" font-size="11.5" text-anchor="end">1.5</text>
<text transform="translate(76.7,540.44) scale(1,1.1)" font-size="11.5" text-anchor="end">2</text>
<text transform="translate(80.6,532.6) scale(1,1.1)" font-size="11"><tspan font-weight="normal" font-size="13.5" dy="1.2">×</tspan><tspan dy="-1.2" dx="0.8" font-size="11.6">10</tspan><tspan font-size="9" dy="-5.2" dx="0.6">26</tspan></text>
<text transform="translate(46.4,713.6) rotate(-90) scale(1,1.0)" font-size="13.3" text-anchor="middle">V<tspan font-size="10.5" dy="5.6">out1</tspan><tspan dy="-5.6" xml:space="preserve">  (p.u)</tspan></text>
<text transform="translate(353.4,922.3) scale(1,1.03)" font-size="13" text-anchor="middle">Time (Seconds)</text>
<text class="serif" x="341" y="955" font-size="16" text-anchor="middle">(d)</text>
<rect x="434.9" y="536.3" width="175.70000000000005" height="166.9000000000001" fill="#fff" stroke="#383838" stroke-width="1"/>
<line x1="439.6" y1="545.5" x2="482.7" y2="545.5" stroke="#7E2F8E" stroke-width="3"/>
<text transform="translate(486.9,550.60) scale(1,1.1)" class="lg" font-size="11.6">PID-PSO</text>
<line x1="439.6" y1="562.4" x2="482.7" y2="562.4" stroke="#77AC30" stroke-width="3"/>
<text transform="translate(486.9,567.50) scale(1,1.1)" class="lg" font-size="11.6">PID-GTO</text>
<line x1="439.6" y1="577.8" x2="482.7" y2="577.8" stroke="#EDB120" stroke-width="3"/>
<text transform="translate(486.9,582.90) scale(1,1.1)" class="lg" font-size="11.6">PID-MPA</text>
<line x1="439.6" y1="595.3" x2="482.7" y2="595.3" stroke="#00FFFF" stroke-width="3"/>
<text transform="translate(486.9,602.90) scale(1,1.1)" class="lg" font-size="11.6">PIDD<tspan font-size="9.3" dx="0.5" dy="-4.9">2</tspan><tspan dx="0.9" dy="4.9">-PSO</tspan></text>
<line x1="439.6" y1="614.6" x2="482.7" y2="614.6" stroke="#FF00FF" stroke-width="3"/>
<text transform="translate(486.9,622.20) scale(1,1.1)" class="lg" font-size="11.6">PIDD<tspan font-size="9.3" dx="0.5" dy="-4.9">2</tspan><tspan dx="0.9" dy="4.9">-GTO</tspan></text>
<line x1="439.6" y1="633.5" x2="482.7" y2="633.5" stroke="#FFFF00" stroke-width="3"/>
<text transform="translate(486.9,641.10) scale(1,1.1)" class="lg" font-size="11.6">PIDD<tspan font-size="9.3" dx="0.5" dy="-4.9">2</tspan><tspan dx="0.9" dy="4.9">-MPA</tspan></text>
<line x1="439.6" y1="653.1" x2="482.7" y2="653.1" stroke="#00FF00" stroke-width="3"/>
<text transform="translate(486.9,661.00) scale(1,1.1)" class="lg" font-size="11.6">(FPIDD<tspan font-size="9.3" dx="0.5" dy="-4.9">2</tspan><tspan dx="0.9" dy="4.9">+PIDD</tspan><tspan font-size="9.3" dx="0.5" dy="-4.9">2</tspan><tspan dx="0.9" dy="4.9">)-PSO</tspan></text>
<line x1="439.6" y1="672.4" x2="482.7" y2="672.4" stroke="#FF0000" stroke-width="3"/>
<text transform="translate(486.9,680.30) scale(1,1.1)" class="lg" font-size="11.6">(FPIDD<tspan font-size="9.3" dx="0.5" dy="-4.9">2</tspan><tspan dx="0.9" dy="4.9">+PIDD</tspan><tspan font-size="9.3" dx="0.5" dy="-4.9">2</tspan><tspan dx="0.9" dy="4.9">)-GTO</tspan></text>
<line x1="439.6" y1="691.7" x2="482.7" y2="691.7" stroke="#0000FF" stroke-width="3"/>
<text transform="translate(486.9,699.60) scale(1,1.1)" class="lg" font-size="11.6">(FPIDD<tspan font-size="9.3" dx="0.5" dy="-4.9">2</tspan><tspan dx="0.9" dy="4.9">+PIDD</tspan><tspan font-size="9.3" dx="0.5" dy="-4.9">2</tspan><tspan dx="0.9" dy="4.9">)-MPA</tspan></text>
<rect x="115.4" y="510.5" width="316.1" height="204.70000000000005" fill="#fff"/>
<line x1="173.46" y1="510.5" x2="173.46" y2="715.2" stroke="#e3e3e3" stroke-width="1"/>
<line x1="237.97" y1="510.5" x2="237.97" y2="715.2" stroke="#e3e3e3" stroke-width="1"/>
<line x1="302.48" y1="510.5" x2="302.48" y2="715.2" stroke="#e3e3e3" stroke-width="1"/>
<line x1="366.99" y1="510.5" x2="366.99" y2="715.2" stroke="#e3e3e3" stroke-width="1"/>
<line x1="115.4" y1="664.03" x2="431.5" y2="664.03" stroke="#e3e3e3" stroke-width="1"/>
<line x1="115.4" y1="612.85" x2="431.5" y2="612.85" stroke="#e3e3e3" stroke-width="1"/>
<line x1="115.4" y1="561.68" x2="431.5" y2="561.68" stroke="#e3e3e3" stroke-width="1"/>
<line x1="173.46" y1="715.2" x2="173.46" y2="710.2" stroke="#383838" stroke-width="1.1"/>
<line x1="173.46" y1="510.5" x2="173.46" y2="515.5" stroke="#383838" stroke-width="1.1"/>
<line x1="237.97" y1="715.2" x2="237.97" y2="710.2" stroke="#383838" stroke-width="1.1"/>
<line x1="237.97" y1="510.5" x2="237.97" y2="515.5" stroke="#383838" stroke-width="1.1"/>
<line x1="302.48" y1="715.2" x2="302.48" y2="710.2" stroke="#383838" stroke-width="1.1"/>
<line x1="302.48" y1="510.5" x2="302.48" y2="515.5" stroke="#383838" stroke-width="1.1"/>
<line x1="366.99" y1="715.2" x2="366.99" y2="710.2" stroke="#383838" stroke-width="1.1"/>
<line x1="366.99" y1="510.5" x2="366.99" y2="515.5" stroke="#383838" stroke-width="1.1"/>
<line x1="431.50" y1="715.2" x2="431.50" y2="710.2" stroke="#383838" stroke-width="1.1"/>
<line x1="431.50" y1="510.5" x2="431.50" y2="515.5" stroke="#383838" stroke-width="1.1"/>
<line x1="115.4" y1="715.20" x2="120.4" y2="715.20" stroke="#383838" stroke-width="1.1"/>
<line x1="431.5" y1="715.20" x2="426.5" y2="715.20" stroke="#383838" stroke-width="1.1"/>
<line x1="115.4" y1="664.03" x2="120.4" y2="664.03" stroke="#383838" stroke-width="1.1"/>
<line x1="431.5" y1="664.03" x2="426.5" y2="664.03" stroke="#383838" stroke-width="1.1"/>
<line x1="115.4" y1="612.85" x2="120.4" y2="612.85" stroke="#383838" stroke-width="1.1"/>
<line x1="431.5" y1="612.85" x2="426.5" y2="612.85" stroke="#383838" stroke-width="1.1"/>
<line x1="115.4" y1="561.68" x2="120.4" y2="561.68" stroke="#383838" stroke-width="1.1"/>
<line x1="431.5" y1="561.68" x2="426.5" y2="561.68" stroke="#383838" stroke-width="1.1"/>
<line x1="115.4" y1="510.50" x2="120.4" y2="510.50" stroke="#383838" stroke-width="1.1"/>
<line x1="431.5" y1="510.50" x2="426.5" y2="510.50" stroke="#383838" stroke-width="1.1"/>
<rect x="115.4" y="510.5" width="316.1" height="204.70000000000005" fill="none" stroke="#383838" stroke-width="1.1"/>
<clipPath id="c2"><rect x="113.9" y="510.0" width="319.1" height="205.70000000000005"/></clipPath>
<g clip-path="url(#c2)">
<line x1="116.0" y1="510.5" x2="116.0" y2="715.2" stroke="#FF0000" stroke-width="2.2"/>
<line x1="118.4" y1="510.5" x2="118.4" y2="715.2" stroke="#0000FF" stroke-width="2.9"/>
<polyline points="123.00,715.20 124.00,680.00 125.00,655.00 126.50,635.00 128.50,616.00 131.00,604.00 135.00,596.00 139.00,593.30 142.80,593.80 147.00,597.00 151.00,603.00 156.00,610.00 161.00,614.50 166.00,616.00 171.00,615.00 178.00,613.00 190.00,611.80 200.00,612.20 432.00,612.40" fill="none" stroke="#00FFFF" stroke-width="3" stroke-linejoin="round" stroke-linecap="butt" />
<polyline points="123.90,715.20 124.50,690.00 125.20,660.00 126.00,645.00 127.00,632.00 128.50,618.00 131.00,603.00 135.00,594.50 139.00,591.50 143.50,592.00 147.00,595.50 151.00,602.00 156.00,610.00 161.00,615.50 165.00,617.50 169.00,617.20 174.00,615.00 180.00,612.50 190.00,611.30 200.00,612.00 210.00,612.40 432.00,612.40" fill="none" stroke="#FF00FF" stroke-width="3" stroke-linejoin="round" stroke-linecap="butt" />
<polyline points="122.50,645.00 123.90,626.70 126.00,610.00 128.50,600.00 131.90,594.60 135.00,596.00 140.00,602.00 146.00,610.00 152.20,614.00 158.00,613.80 165.00,612.60 175.00,612.40 432.00,612.40" fill="none" stroke="#FFFF00" stroke-width="3" stroke-linejoin="round" stroke-linecap="butt" />
<polyline points="121.90,715.20 122.60,700.00 123.20,680.00 124.00,660.00 125.00,640.00 126.00,631.00 128.00,615.00 131.00,601.00 135.00,592.50 138.50,590.30 142.10,590.20 146.00,593.50 150.00,600.00 155.00,609.00 160.00,615.50 164.00,618.50 167.90,619.20 172.00,618.00 178.00,614.50 185.00,611.50 192.00,610.70 200.00,611.80 210.00,612.40 432.00,612.40" fill="none" stroke="#00FF00" stroke-width="3" stroke-linejoin="round" stroke-linecap="butt" />
<line x1="120.4" y1="510.5" x2="120.4" y2="715.2" stroke="#FF0000" stroke-width="1.3"/>
<polyline points="119.50,667.44 120.05,607.22 120.60,657.84 121.15,605.08 121.70,654.72 122.25,610.97 122.80,652.33 123.35,608.83 123.90,651.43 124.45,608.14 125.00,638.58 125.55,609.55 126.10,633.44 126.65,610.19 127.20,637.10 128.00,626.00 132.00,614.00 136.00,607.00 141.00,603.90 146.00,604.50 152.00,607.00 158.00,610.00 165.00,612.00 175.00,612.60 432.00,612.40" fill="none" stroke="#FF0000" stroke-width="2.6" stroke-linejoin="round" stroke-linecap="butt" />
<polyline points="121.30,510.50 122.20,530.00 123.00,552.00 123.60,560.50 124.30,555.00 125.20,535.00 126.20,517.00 126.90,512.50 127.60,516.00 128.30,535.00 129.30,565.00 130.50,600.00 131.80,630.00 133.40,649.00 135.00,645.00 137.00,628.00 139.50,612.00 142.50,604.00 147.20,602.00 151.00,605.50 155.00,611.50 159.00,615.00 163.00,614.30 167.00,612.50 171.30,611.70 180.00,612.40 432.00,612.40" fill="none" stroke="#0000FF" stroke-width="3" stroke-linejoin="round" stroke-linecap="butt" />
</g>
<text transform="translate(173.46,734) scale(1,1.1)" font-size="12" text-anchor="middle">10</text>
<text transform="translate(237.97,734) scale(1,1.1)" font-size="12" text-anchor="middle">20</text>
<text transform="translate(302.48,734) scale(1,1.1)" font-size="12" text-anchor="middle">30</text>
<text transform="translate(366.99,734) scale(1,1.1)" font-size="12" text-anchor="middle">40</text>
<text transform="translate(431.50,734) scale(1,1.1)" font-size="12" text-anchor="middle">50</text>
<text transform="translate(110,720.32) scale(1,1.1)" font-size="12" text-anchor="end">0.9</text>
<text transform="translate(110,669.15) scale(1,1.1)" font-size="12" text-anchor="end">0.95</text>
<text transform="translate(110,617.97) scale(1,1.1)" font-size="12" text-anchor="end">1</text>
<text transform="translate(110,566.80) scale(1,1.1)" font-size="12" text-anchor="end">1.05</text>
<text transform="translate(110,515.62) scale(1,1.1)" font-size="12" text-anchor="end">1.1</text>
<ellipse cx="81.7" cy="745.7" rx="18.8" ry="19.8" fill="none" stroke="#8a8a8a" stroke-width="2.6" filter="url(#sh)" transform="translate(0.5,2.5)"/>
<ellipse cx="81.7" cy="745.7" rx="20" ry="21" fill="none" stroke="#000" stroke-width="1.3"/>
<g filter="url(#sh)" transform="translate(0.5,3.2)"><line x1="102" y1="744.4" x2="154.78" y2="722.87" stroke="#7a7a7a" stroke-width="3.3"/><path d="M164.50,718.90 L156.52,727.13 L153.04,718.61 Z" fill="#7a7a7a"/></g>
<line x1="102" y1="744.4" x2="155.70" y2="722.49" stroke="#000" stroke-width="1.4"/>
<path d="M164.50,718.90 L156.52,727.13 L153.04,718.61 Z" fill="#000"/>
</svg></body></html>
